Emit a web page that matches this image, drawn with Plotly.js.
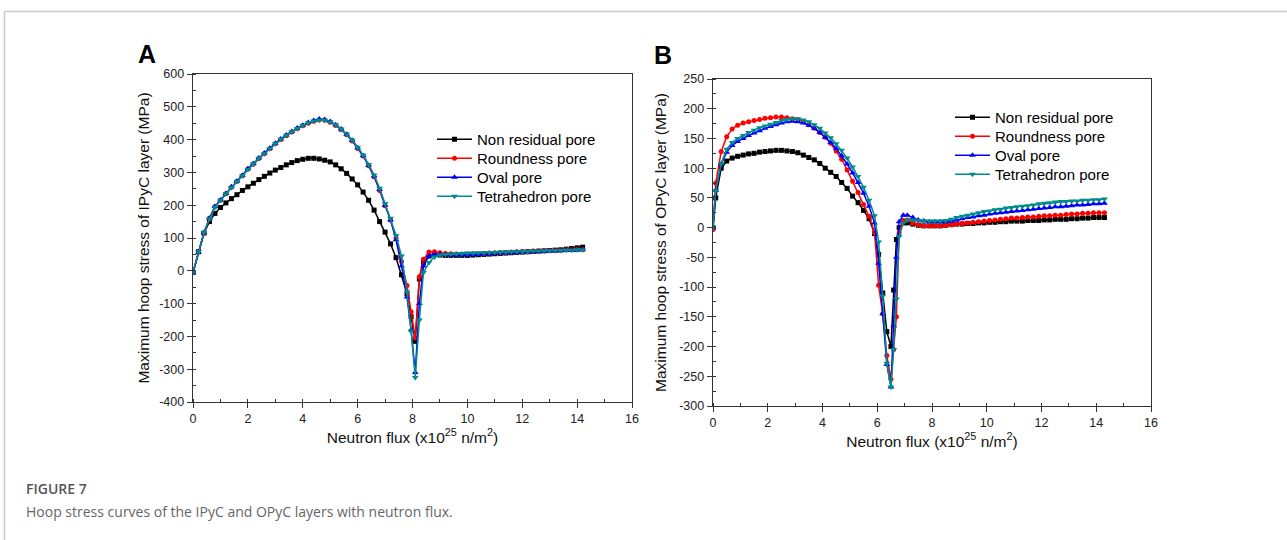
<!DOCTYPE html>
<html>
<head>
<meta charset="utf-8">
<script src="https://cdn.plot.ly/plotly-3.0.1.min.js"></script>
<style>html,body{margin:0;padding:0;background:#fff;}#chart{width:1287px;height:540px;}</style>
</head>
<body>
<div id="chart"></div>
<script>
// ---------- Panel A: IPyC layer ----------
const xA = [0,0.2,0.4,0.6,0.8,1.0,1.2,1.4,1.6,1.8,2.0,2.2,2.4,2.6,2.8,3.0,3.2,3.4,3.6,3.8,
  4.0,4.2,4.4,4.6,4.8,5.0,5.2,5.4,5.6,5.8,6.0,6.2,6.4,6.6,6.8,7.0,7.2,7.4,7.6,7.8,
  7.95,8.1,8.25,8.4,
  8.6,8.8,9.0,9.2,9.4,9.6,9.8,10.0,10.2,10.4,10.6,10.8,11.0,11.2,11.4,11.6,11.8,12.0,12.2,12.4,
  12.6,12.8,13.0,13.2,13.4,13.6,13.8,14.0,14.2];
const nonResidualA = [-5,58,115,150,175,193,207,220,232,245,
  256,267,278,288,298,307,315,323,330,336,
  340,343,343,341,337,332,323,311,297,280,
  262,240,215,185,150,118,82,40,-12,-70,
  -140,-215,-25,25,
  45,50,48,47,47,47,47,47,48,49,
  50,51,52,53,54,55,56,57,58,59,
  60,61,62,63,64,66,68,70,72];
const roundnessA = [-5,58,115,160,195,215,235,255,272,290,
  310,325,342,357,372,387,400,412,423,433,
  442,450,456,460,459,453,443,430,415,396,
  373,350,320,287,245,198,155,100,28,-45,
  -125,-205,-18,35,
  57,58,55,53,52,51,51,51,52,52,
  53,54,55,55,56,57,58,58,59,60,
  60,61,62,62,63,64,64,65,65];
const ovalA = [-6,57,116,160,196,216,236,256,273,291,
  311,327,344,359,374,389,402,414,425,435,
  444,452,458,463,461,455,445,432,416,398,
  375,351,322,289,248,200,155,95,15,-80,
  -180,-310,-100,15,
  45,50,50,49,48,48,48,49,49,50,
  51,52,53,54,54,55,56,57,57,58,
  59,59,60,61,61,62,63,63,64];
const tetrahedronA = [-5,58,117,158,194,215,235,254,272,290,
  309,326,343,358,373,388,401,413,424,434,
  443,451,457,460,459,454,445,432,417,399,
  377,353,324,292,252,205,160,108,45,-65,
  -185,-325,-150,-5,
  25,42,48,50,51,52,53,54,54,55,
  55,56,56,57,57,58,58,59,59,60,
  60,61,61,62,62,63,63,64,64];

// ---------- Panel B: OPyC layer ----------
const xB = [0,0.1,0.3,0.5,0.7,0.9,1.1,1.3,1.5,1.7,1.9,2.1,2.3,2.5,2.7,2.9,3.1,3.3,3.5,3.7,3.9,
  4.1,4.3,4.5,4.7,4.9,5.1,5.3,5.5,5.7,5.9,
  6.05,6.2,6.35,6.5,6.6,6.7,6.8,6.95,
  7.1,7.3,7.5,7.7,7.9,8.1,8.3,8.5,8.7,8.9,9.1,9.3,9.5,9.7,9.9,10.1,10.3,10.5,10.7,10.9,
  11.1,11.3,11.5,11.7,11.9,12.1,12.3,12.5,12.7,12.9,13.1,13.3,13.5,13.7,13.9,14.1,14.3];
const nonResidualB = [0,50,100,112,117,120,122,124,125,127,128,
  129,130,130,129,128,126,122,118,114,108,
  100,93,86,76,66,53,42,29,15,-10,
  -45,-110,-175,-200,-105,-20,0,8,
  8,6,4,3,3,3,3,4,5,6,6,7,7,8,8,9,9,10,10,11,
  11,11,12,12,12,13,13,14,14,14,15,15,16,16,17,17,17];
const roundnessB = [-3,75,128,153,166,172,176,178,180,182,184,
  185,186,186,185,183,182,178,173,167,160,
  152,142,129,115,97,78,59,39,19,-8,
  -97,-145,-215,-255,-205,-150,-9,12,
  13,8,5,3,3,3,3,4,5,6,7,8,9,10,11,12,13,14,15,16,
  16,17,18,18,19,20,20,21,21,22,23,23,24,24,25,25,25];
const ovalB = [0,63,107,127,138,145,150,155,159,163,167,
  170,173,176,178,179,178,176,172,167,160,
  152,143,133,121,107,92,76,58,36,8,
  -60,-145,-230,-268,-165,-50,10,21,
  21,17,13,11,10,10,10,10,11,13,15,17,18,20,21,23,24,25,26,27,
  28,29,30,31,32,33,34,35,35,36,37,38,38,39,40,40,41];
const tetrahedronB = [0,62,108,132,143,150,155,160,164,168,171,
  174,177,180,182,183,183,181,178,173,167,
  159,151,141,130,117,102,86,68,46,20,
  -24,-115,-228,-268,-205,-120,-15,8,
  13,13,12,11,11,11,11,12,14,17,19,21,23,25,27,28,30,31,33,34,
  35,36,37,38,40,41,42,43,44,44,45,45,46,46,47,47,48];

// ---------- Tick labels ----------
const xTickVals = [0,2,4,6,8,10,12,14,16];
const xTickText = ['0','2','4','6','8','10','12','14','16'];
const yTickValsA = [-400,-300,-200,-100,0,100,200,300,400,500,600];
const yTickTextA = ['-400','-300','-200','-100','0','100','200','300','400','500','600'];
const yTickValsB = [-300,-250,-200,-150,-100,-50,0,50,100,150,200,250];
const yTickTextB = ['-300','-250','-200','-150','-100','-50','0','50','100','150','200','250'];

const seriesNames = ['Non residual pore','Roundness pore','Oval pore','Tetrahedron pore'];
const seriesColors = ['#000000','#ff0000','#0000ff','#008b8b'];
const seriesSymbols = ['square','circle','triangle-up','triangle-down'];
const seriesSizes = [5,5,6,6];

const yAList = [nonResidualA, roundnessA, ovalA, tetrahedronA];
const yBList = [nonResidualB, roundnessB, ovalB, tetrahedronB];

// plot area: x 193..1151, y 74..406 (px)
const L=193, R=1151, T=74, B=406, W=R-L, H=B-T;
const px = v => (v - L) / W;
const py = v => (B - v) / H;

const fontFam = 'Liberation Sans, Arial, Helvetica, sans-serif';
const xTitle = 'Neutron flux (x10<sup>25</sup> n/m<sup>2</sup>)';

// one legend per entry so the rows can sit as close as in the reference
const legendTopsA = [123, 142, 161, 180];
const legendTopsB = [101, 120, 139, 158];
const legendLeftA = 432, legendLeftB = 950;

const traces = [];
yAList.forEach((ys, i) => traces.push({
  type:'scatter', mode:'lines+markers', x:xA, y:ys, name:seriesNames[i],
  xaxis:'x', yaxis:'y', legend: i === 0 ? 'legend' : 'legend' + (i + 1),
  line:{color:seriesColors[i], width:1.5},
  marker:{symbol:seriesSymbols[i], size:seriesSizes[i], color:seriesColors[i]}
}));
yBList.forEach((ys, i) => traces.push({
  type:'scatter', mode:'lines+markers', x:xB, y:ys, name:seriesNames[i],
  xaxis:'x2', yaxis:'y2', legend: 'legend' + (i + 5),
  line:{color:seriesColors[i], width:1.5},
  marker:{symbol:seriesSymbols[i], size:seriesSizes[i], color:seriesColors[i]}
}));

function xAxis(domain, anchor){
  return {domain:domain, anchor:anchor, range:[0,16],
    tickmode:'array', tickvals:xTickVals, ticktext:xTickText,
    ticks:'outside', ticklen:5, tickwidth:1, tickcolor:'#333',
    showline:true, linecolor:'#333', linewidth:1.3, mirror:true,
    showgrid:false, zeroline:false,
    tickfont:{size:12.5, color:'#222', family:fontFam},
    minor:{dtick:1, tick0:0, ticks:'inside', ticklen:3, tickwidth:1, tickcolor:'#333', showgrid:false},
    title:{text:xTitle, font:{size:15.5, color:'#111', family:fontFam}, standoff:6}};
}
function yAxis(domain, anchor, range, tv, tt, mdt, title, standoff){
  return {domain:domain, anchor:anchor, range:range,
    tickmode:'array', tickvals:tv, ticktext:tt,
    ticks:'outside', ticklen:5, tickwidth:1, tickcolor:'#333',
    showline:true, linecolor:'#333', linewidth:1.3, mirror:true,
    showgrid:false, zeroline:false,
    tickfont:{size:12.5, color:'#222', family:fontFam},
    minor:{dtick:mdt, tick0:0, ticks:'inside', ticklen:3, tickwidth:1, tickcolor:'#333', showgrid:false},
    title:{text:title, font:{size:15.5, color:'#111', family:fontFam}, standoff:standoff}};
}

function legendAt(left, top){
  return {x:px(left), y:py(top), xanchor:'left', yanchor:'top', bgcolor:'rgba(0,0,0,0)',
    borderwidth:0, font:{size:15, color:'#000', family:fontFam}, itemwidth:35, tracegroupgap:0};
}

const layout = {
  width:1287, height:540,
  margin:{l:L, r:1287-R, t:T, b:540-B, pad:0},
  paper_bgcolor:'#ffffff', plot_bgcolor:'#ffffff',
  font:{family:fontFam, color:'#000'},
  showlegend:true,
  xaxis: xAxis([0, px(632)], 'y'),
  yaxis: yAxis([py(402), 1], 'x', [-400,600], yTickValsA, yTickTextA, 50, 'Maximum hoop stress of IPyC layer (MPa)', 5),
  xaxis2: xAxis([px(713), 1], 'y2'),
  yaxis2: yAxis([0, py(79)], 'x2', [-300,250], yTickValsB, yTickTextB, 25, 'Maximum hoop stress of OPyC layer (MPa)', 8),
  annotations:[
    {text:'<b>A</b>', xref:'paper', yref:'paper', x:px(147), y:py(54), xanchor:'center', yanchor:'middle',
      showarrow:false, font:{size:25, color:'#000', family:fontFam}},
    {text:'<b>B</b>', xref:'paper', yref:'paper', x:px(662.5), y:py(55), xanchor:'center', yanchor:'middle',
      showarrow:false, font:{size:25, color:'#000', family:fontFam}},
    {text:'FIGURE 7', xref:'paper', yref:'paper', x:px(24), y:py(488), xanchor:'left', yanchor:'middle',
      showarrow:false, font:{size:14, color:'#555', family:'Open Sans, Noto Sans, sans-serif', weight:600}},
    {text:'Hoop stress curves of the IPyC and OPyC layers with neutron flux.', xref:'paper', yref:'paper',
      x:px(24), y:py(511), xanchor:'left', yanchor:'middle',
      showarrow:false, font:{size:14, color:'#666', family:'Open Sans, Noto Sans, sans-serif'}}
  ],
  shapes:[
    {type:'line', xref:'paper', yref:'paper', x0:px(4.5), x1:px(1287), y0:py(11.5), y1:py(11.5),
      line:{color:'#c8c8c8', width:1.5}},
    {type:'line', xref:'paper', yref:'paper', x0:px(4.5), x1:px(4.5), y0:py(11.5), y1:py(540),
      line:{color:'#c8c8c8', width:1.5}}
  ]
};
for (let i = 0; i < 4; i++) {
  layout[i === 0 ? 'legend' : 'legend' + (i + 1)] = legendAt(legendLeftA, legendTopsA[i]);
  layout['legend' + (i + 5)] = legendAt(legendLeftB, legendTopsB[i]);
}

Plotly.newPlot('chart', traces, layout, {displayModeBar:false, staticPlot:true});
</script>
</body>
</html>
